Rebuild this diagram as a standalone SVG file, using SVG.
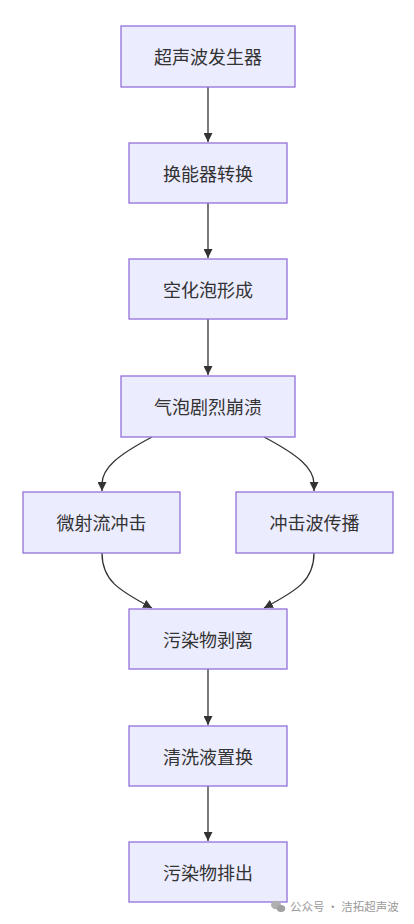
<svg xmlns="http://www.w3.org/2000/svg" width="414" height="924" viewBox="0 0 414 924">
<style>
.node rect{fill:#ECECFF;stroke:#9370DB;stroke-width:1.3}
.node text{font-family:"Noto Sans CJK SC","Noto Sans",sans-serif;font-size:18px;fill:#333;text-anchor:middle;dominant-baseline:central}
.edge{fill:none;stroke:#333;stroke-width:1.3}
.wm{font-family:"Noto Sans CJK SC","Noto Sans",sans-serif;font-size:11.5px;fill:#9a9a9a}
</style>
<defs>
<marker id="arr" viewBox="0 0 10 10" refX="10" refY="5" markerWidth="9" markerHeight="9" markerUnits="userSpaceOnUse" orient="auto">
<path d="M0,0 L10,5 L0,10 z" fill="#333"/>
</marker>
</defs>
<rect width="414" height="924" fill="#fff"/>
<g id="connectors">
<path class="edge" d="M208,87 L208,142" marker-end="url(#arr)"/>
<path class="edge" d="M208,203 L208,258" marker-end="url(#arr)"/>
<path class="edge" d="M208,319 L208,375" marker-end="url(#arr)"/>
<path class="edge" d="M152,437 C118,455 102,468 102,484 L102,491" marker-end="url(#arr)"/>
<path class="edge" d="M264,437 C298,455 314,468 314,484 L314,491" marker-end="url(#arr)"/>
<path class="edge" d="M102,553 C102,580 118,590 152,608" marker-end="url(#arr)"/>
<path class="edge" d="M314,553 C314,580 298,590 264,608" marker-end="url(#arr)"/>
<path class="edge" d="M208,669 L208,725" marker-end="url(#arr)"/>
<path class="edge" d="M208,786 L208,841" marker-end="url(#arr)"/>
</g>
<g id="n1" class="node"><rect x="121" y="26" width="174" height="61"/><text x="208" y="56">超声波发生器</text></g>
<g id="n2" class="node"><rect x="129" y="143" width="158" height="60"/><text x="208" y="173">换能器转换</text></g>
<g id="n3" class="node"><rect x="129" y="259" width="158" height="60"/><text x="208" y="289">空化泡形成</text></g>
<g id="n4" class="node"><rect x="121" y="376" width="174" height="61"/><text x="208" y="406">气泡剧烈崩溃</text></g>
<g id="n5" class="node"><rect x="23" y="492" width="157" height="61"/><text x="101.5" y="522">微射流冲击</text></g>
<g id="n6" class="node"><rect x="236" y="492" width="157" height="61"/><text x="314.5" y="522">冲击波传播</text></g>
<g id="n7" class="node"><rect x="129" y="609" width="158" height="60"/><text x="208" y="639">污染物剥离</text></g>
<g id="n8" class="node"><rect x="129" y="726" width="158" height="60"/><text x="208" y="756">清洗液置换</text></g>
<g id="n9" class="node"><rect x="129" y="842" width="158" height="60"/><text x="208" y="872">污染物排出</text></g>
<g id="watermark">
<ellipse cx="276" cy="905" rx="5" ry="4.2" fill="#b0b0b0"/>
<ellipse cx="281" cy="908.5" rx="4.2" ry="3.6" fill="#a0a0a0"/>
<text class="wm" x="290" y="911">公众号 · 洁拓超声波</text>
</g>
</svg>
